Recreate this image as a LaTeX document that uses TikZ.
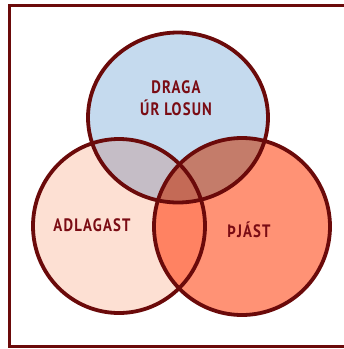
\documentclass[tikz,border=0pt]{standalone}
\usepackage{fontspec}
\newfontfamily\handfont[LetterSpace=8]{PT Sans}
\definecolor{cstroke}{HTML}{6B0A0A}
\definecolor{ctext}{HTML}{7A0C14}
\definecolor{cblue}{HTML}{C5DAEE}
\definecolor{cpink}{HTML}{FDE0D3}
\definecolor{corange}{HTML}{FF9275}
\definecolor{cbp}{HTML}{C5BDC6}
\definecolor{cbo}{HTML}{C47C6A}
\definecolor{cpo}{HTML}{FF8262}
\definecolor{call}{HTML}{C46A56}
\newcommand{\handtxt}[1]{\scalebox{0.82}[1]{#1}}
\tikzset{
  ring/.style={draw=cstroke, line width=3.8pt},
  frameline/.style={draw=cstroke, line width=3pt},
  lab/.style={text=ctext, font=\handfont\bfseries\fontsize{18}{20}\selectfont, inner sep=0pt, anchor=base}
}
\begin{document}
\begin{tikzpicture}[x=1pt,y=-1pt]
\useasboundingbox (0,0) rectangle (344,349);
\fill[white] (0,0) rectangle (344,349);
% frame
\coordinate (fa) at (344,5);
\coordinate (fb) at (9,5);
\coordinate (fc) at (9,346);
\coordinate (fd) at (344,346);
\draw[frameline] (fa) -- (fb) -- (fc) -- (fd);
% base fills
\fill[cblue] (178,117.5) ellipse [x radius=90, y radius=85];
\fill[cpink] (119,226) ellipse [x radius=86, y radius=87];
\fill[corange] (242,226.5) ellipse [x radius=88, y radius=88.5];
% blue & pink
\begin{scope}
  \clip (178,117.5) ellipse [x radius=90, y radius=85];
  \fill[cbp] (119,226) ellipse [x radius=86, y radius=87];
\end{scope}
% blue & orange
\begin{scope}
  \clip (178,117.5) ellipse [x radius=90, y radius=85];
  \fill[cbo] (242,226.5) ellipse [x radius=88, y radius=88.5];
\end{scope}
% pink & orange
\begin{scope}
  \clip (119,226) ellipse [x radius=86, y radius=87];
  \fill[cpo] (242,226.5) ellipse [x radius=88, y radius=88.5];
\end{scope}
% all three
\begin{scope}
  \clip (178,117.5) ellipse [x radius=90, y radius=85];
  \clip (119,226) ellipse [x radius=86, y radius=87];
  \fill[call] (242,226.5) ellipse [x radius=88, y radius=88.5];
\end{scope}
% outlines
\draw[ring] (178,117.5) ellipse [x radius=90, y radius=85];
\draw[ring] (119,226) ellipse [x radius=86, y radius=87];
\draw[ring] (242,226.5) ellipse [x radius=88, y radius=88.5];
% labels
\node[lab] (t1) at (176,93.3) {\handtxt{DRAGA}};
\node[lab] (t2) at (176,115) {\handtxt{ÚR LOSUN}};
\node[lab] (t3) at (92,231) {\handtxt{ADLAGAST}};
\node[lab] (t4) at (249,237) {\handtxt{ÞJÁST}};
\end{tikzpicture}
\end{document}
